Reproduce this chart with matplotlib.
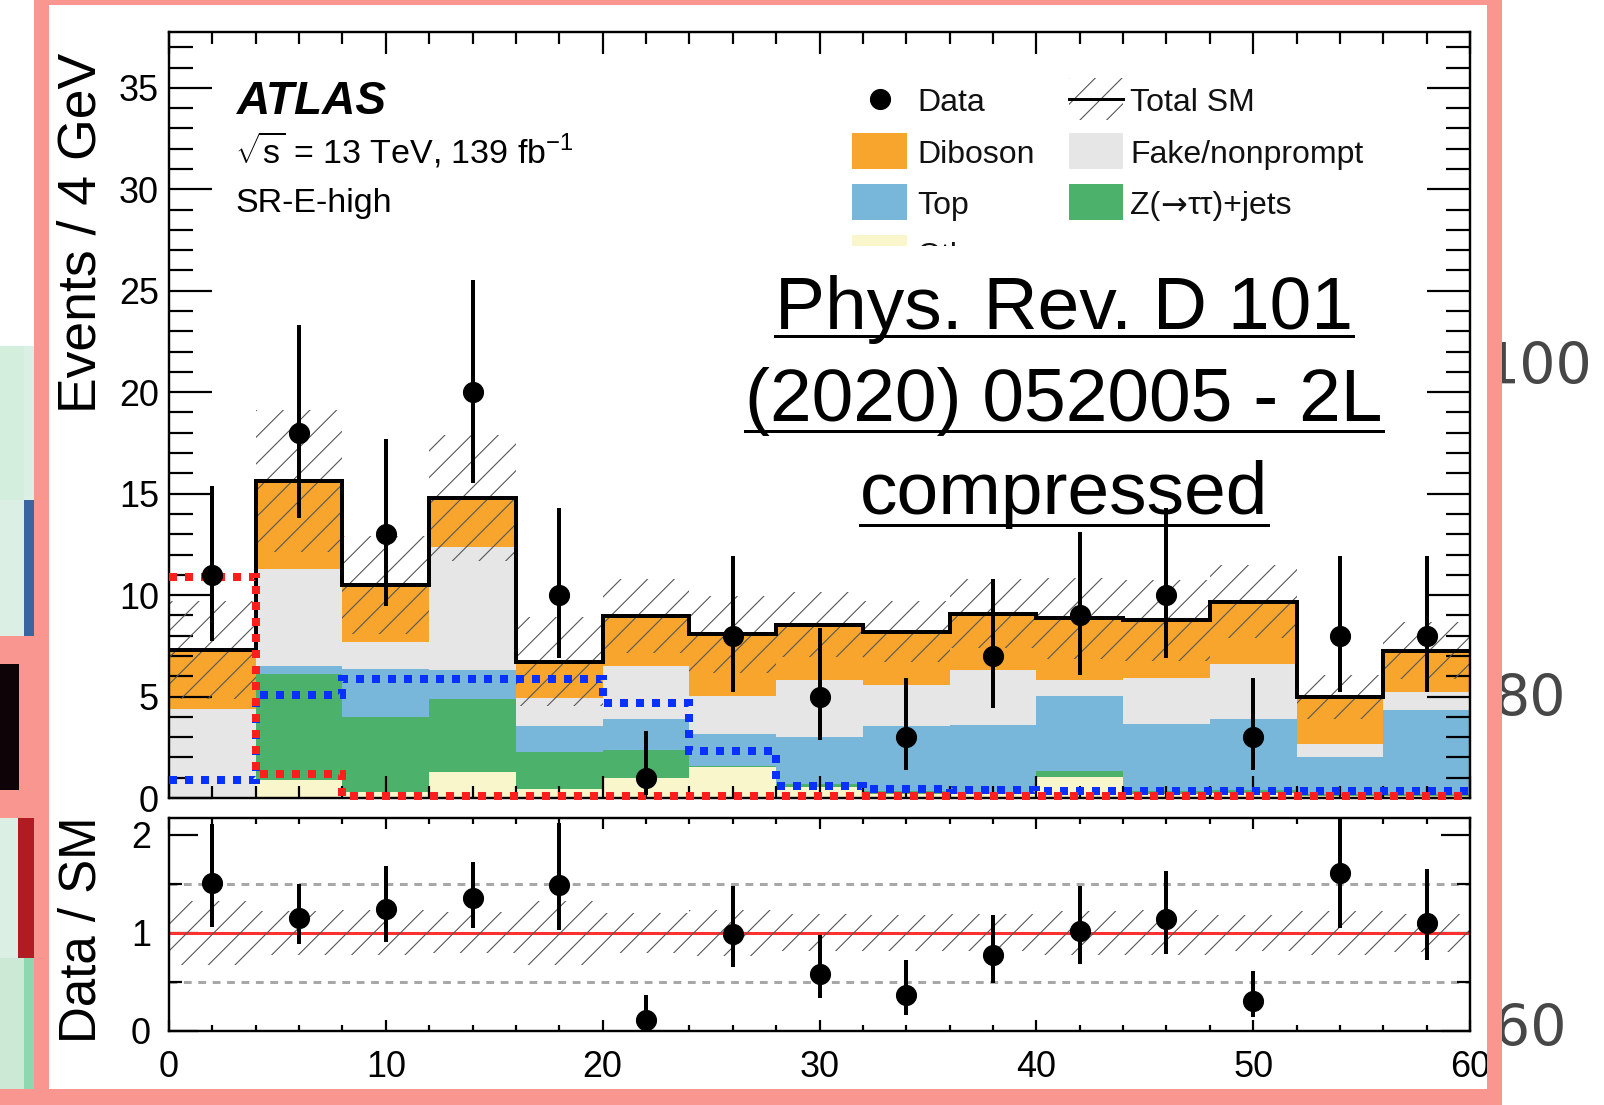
import numpy as np
import matplotlib
matplotlib.use("Agg")
import matplotlib.pyplot as plt
from matplotlib.patches import Rectangle
from matplotlib.lines import Line2D
from matplotlib.ticker import MultipleLocator

# ---------------- data ----------------
bin_edges = [0, 4, 8, 12, 16, 20, 24, 28, 32, 36, 40, 44, 48, 52, 56, 60]
bin_centers = [2, 6, 10, 14, 18, 22, 26, 30, 34, 38, 42, 46, 50, 54, 58]
data = [11, 18, 13, 20, 10, 1, 8, 5, 3, 7, 9, 10, 3, 8, 8]
data_err_low = [3.26, 4.22, 3.53, 4.46, 3.11, 0.83, 2.77, 2.16, 1.63, 2.58, 2.94, 3.11, 1.63, 2.77, 2.77]
data_err_high = [4.40, 5.30, 4.67, 5.52, 4.27, 2.30, 3.94, 3.38, 2.92, 3.77, 4.09, 4.27, 2.92, 3.94, 3.94]
others = [0.00, 0.89, 0.28, 1.26, 0.44, 0.98, 1.55, 0.55, 0.20, 0.20, 1.05, 0.20, 0.25, 0.10, 0.10]
zjets = [0.00, 5.21, 3.72, 3.61, 1.81, 1.38, 0.05, 0.15, 0.15, 0.10, 0.26, 0.15, 0.15, 0.10, 0.10]
top = [0.00, 0.40, 2.35, 1.43, 1.31, 1.52, 1.55, 2.30, 3.21, 3.30, 3.72, 3.32, 3.49, 1.83, 4.13]
fake = [4.38, 4.80, 1.35, 6.06, 1.39, 2.62, 1.88, 2.80, 2.01, 2.70, 0.77, 2.23, 2.73, 0.63, 0.87]
diboson = [2.92, 4.30, 2.80, 2.44, 1.77, 2.47, 3.04, 2.75, 2.63, 2.78, 3.05, 2.85, 3.05, 2.32, 2.05]
total_unc = [2.4, 3.5, 2.4, 3.1, 2.2, 1.8, 1.9, 1.6, 1.5, 1.7, 2.0, 2.0, 1.8, 1.1, 1.4]
signal_blue = [0.9, 5.1, 5.85, 5.85, 5.85, 4.66, 2.33, 0.58, 0.45, 0.40, 0.36, 0.36, 0.34, 0.34, 0.34]
signal_red = [10.9, 1.2, 0.1, 0.1, 0.1, 0.1, 0.1, 0.1, 0.1, 0.1, 0.1, 0.1, 0.1, 0.1, 0.1]

legend_labels = ["Data", "Total SM", "Diboson", "Fake/nonprompt", "Top", "Z(\u2192\u03c4\u03c4)+jets", "Others"]
annotation_lines = ["Phys. Rev. D 101", "(2020) 052005 - 2L", "compressed"]
side_labels = ["100", "80", "60"]

# ---------------- style ----------------
W, H = 1604, 1105
DPI = 80


def pt(px):
    return px * 72.0 / DPI


def fx(px):
    return px / W


def fy(py):
    return 1.0 - py / H


plt.rcParams['font.family'] = ['Liberation Sans', 'DejaVu Sans']
plt.rcParams['mathtext.fontset'] = 'custom'
plt.rcParams['mathtext.rm'] = 'Liberation Sans'
plt.rcParams['mathtext.it'] = 'Liberation Sans:italic'
plt.rcParams['mathtext.bf'] = 'Liberation Sans:bold'
plt.rcParams['hatch.linewidth'] = pt(1.1)

c_dib = '#F8A52E'
c_fake = '#E6E6E6'
c_top = '#78B7DA'
c_z = '#4CB26B'
c_oth = '#FAF6CB'
c_hatch = '#555555'
c_pink = '#F9968F'

edges = np.array(bin_edges, dtype=float)
centers = np.array(bin_centers, dtype=float)
d = np.array(data, dtype=float)
dlo = np.array(data_err_low)
dhi = np.array(data_err_high)
comps = [np.array(others), np.array(zjets), np.array(top), np.array(fake), np.array(diboson)]
cols = [c_oth, c_z, c_top, c_fake, c_dib]
total = np.sum(comps, axis=0)
unc = np.array(total_unc)

fig = plt.figure(figsize=(W / DPI, H / DPI), dpi=DPI)
fig.patch.set_facecolor('white')

ax = fig.add_axes([fx(169), fy(798), fx(1470) - fx(169), fy(32) - fy(798)])
rax = fig.add_axes([fx(169), fy(1031), fx(1470) - fx(169), fy(818) - fy(1031)])

# stacked histogram
cum = np.zeros_like(total)
for vals, col in zip(comps, cols):
    ax.stairs(cum + vals, edges, baseline=cum.copy(), fill=True, facecolor=col,
              edgecolor=col, linewidth=0, zorder=1)
    cum = cum + vals

ax.stairs(total + unc, edges, baseline=total - unc, fill=True, facecolor='none',
          edgecolor=c_hatch, hatch='/', linewidth=0, zorder=2)
ax.stairs(total, edges, baseline=None, color='black', linewidth=pt(4), zorder=3)

ax.stairs(signal_blue, edges, baseline=None, color='#0A30FF', linewidth=pt(8),
          linestyle=(0, (1, 1.0)), zorder=4, clip_on=False)
ax.stairs(signal_red, edges, baseline=None, color='#FF1E1E', linewidth=pt(8),
          linestyle=(0, (1, 1.0)), zorder=4.1, clip_on=False)

ax.errorbar(centers, d, yerr=[dlo, dhi], fmt='o', color='black', ms=pt(20),
            elinewidth=pt(4), capsize=0, zorder=6)

ax.set_xlim(0, 60)
ax.set_ylim(0, 37.75)

# ratio panel
ratio = d / total
rel = unc / total
rax.axhline(1.0, color='#FF3030', linewidth=pt(3), zorder=2)
for yv in (0.5, 1.5):
    rax.axhline(yv, color='#A8A8A8', linewidth=pt(3), linestyle=(0, (2.6, 2.2)), zorder=1)
rax.stairs(1 + rel, edges, baseline=1 - rel, fill=True, facecolor='none',
           edgecolor=c_hatch, hatch='/', linewidth=0, zorder=2)
rax.errorbar(centers, ratio, yerr=[dlo / total, dhi / total], fmt='o', color='black',
             ms=pt(20), elinewidth=pt(4), capsize=0, zorder=6)
rax.set_xlim(0, 60)
rax.set_ylim(0, 2.17)

for a in (ax, rax):
    a.xaxis.set_major_locator(MultipleLocator(10))
    a.xaxis.set_minor_locator(MultipleLocator(2))
    for s in a.spines.values():
        s.set_linewidth(pt(2.4))
    a.tick_params(which='both', direction='in', top=True, right=True, width=pt(2.2),
                  colors='black', labelsize=pt(36))

ax.yaxis.set_major_locator(MultipleLocator(5))
ax.yaxis.set_minor_locator(MultipleLocator(1))
ax.tick_params(axis='y', which='major', length=pt(43), pad=pt(10))
ax.tick_params(axis='y', which='minor', length=pt(24))
ax.tick_params(axis='x', which='major', length=pt(22), labelbottom=False)
ax.tick_params(axis='x', which='minor', length=pt(12))

rax.yaxis.set_major_locator(MultipleLocator(1))
rax.yaxis.set_minor_locator(MultipleLocator(0.5))
rax.tick_params(axis='y', which='major', length=pt(29), pad=pt(18))
rax.tick_params(axis='y', which='minor', length=pt(13))
rax.tick_params(axis='x', which='major', length=pt(11), pad=pt(19))
rax.tick_params(axis='x', which='minor', length=pt(6))

# axis titles
fig.text(fx(82), fy(233), "Events / 4 GeV", rotation=90, ha='center', va='center',
         fontsize=pt(53.5), color='black')
fig.text(fx(82), fy(930), "Data / SM", rotation=90, ha='center', va='center',
         fontsize=pt(51), color='black')

# ATLAS labels
fig.text(fx(237), fy(114), "ATLAS", fontsize=pt(46), fontweight='bold', fontstyle='italic',
         ha='left', va='baseline')
fig.text(fx(235), fy(164), "$\\sqrt{\\mathrm{s}}$ = 13 TeV, 139 fb$^{-1}$", fontsize=pt(34),
         ha='left', va='baseline')
fig.text(fx(235), fy(212), "SR-E-high", fontsize=pt(34), ha='left', va='baseline')

# legend (manual)
leg_fs = pt(32)
c1_box = (852, 907)
c2_box = (1069, 1123)
fig.add_artist(Line2D([fx(880)], [fy(99)], marker='o', ms=pt(20), color='black',
                      linestyle='none', transform=fig.transFigure, zorder=3))
fig.add_artist(Rectangle((fx(c2_box[0]), fy(120)), fx(c2_box[1] - c2_box[0]), 42 / H,
                         transform=fig.transFigure, facecolor='none', edgecolor=c_hatch,
                         hatch='/', linewidth=0, zorder=3))
fig.add_artist(Line2D([fx(c2_box[0]), fx(c2_box[1])], [fy(99), fy(99)], color='black',
                      linewidth=pt(3), transform=fig.transFigure, zorder=3))


def box(x0, x1, y0, y1, col, z=3):
    fig.add_artist(Rectangle((fx(x0), fy(y1)), fx(x1 - x0), (y1 - y0) / H,
                             transform=fig.transFigure, facecolor=col, edgecolor='none',
                             linewidth=0, zorder=z))


box(c1_box[0], c1_box[1], 133, 169, c_dib)
box(c1_box[0], c1_box[1], 184, 220, c_top)
box(c1_box[0], c1_box[1], 235, 271, c_oth)
box(c2_box[0], c2_box[1], 133, 169, c_fake)
box(c2_box[0], c2_box[1], 184, 220, c_z)

leg_pos = [(917, 111), (1130, 111), (917, 163), (1130, 163), (917, 214), (1130, 214), (917, 265)]
for lab, (lx, ly) in zip(legend_labels, leg_pos):
    if '\u2192' in lab:
        pre, rest = lab.split('\u2192')
        t1 = fig.text(fx(lx), fy(ly), pre, fontsize=leg_fs, ha='left', va='baseline',
                      color='#111111', zorder=3)
        fig.canvas.draw()
        r = fig.canvas.get_renderer()
        x1 = t1.get_window_extent(r).x1
        t2 = fig.text(x1 / W, fy(ly), '\u2192', fontsize=leg_fs, ha='left', va='baseline',
                      color='#111111', family='DejaVu Sans', zorder=3)
        fig.canvas.draw()
        x2 = t2.get_window_extent(r).x1
        fig.text(x2 / W, fy(ly), rest, fontsize=leg_fs, ha='left', va='baseline',
                 color='#111111', zorder=3)
    else:
        fig.text(fx(lx), fy(ly), lab, fontsize=leg_fs, ha='left', va='baseline',
                 color='#111111', zorder=3)

# white box of the overlaid reference note
box(830, 1400, 246, 280, 'white', z=4)

# reference note, underlined
ann_y = [329, 421, 514]
ann_ul = [336, 431, 525]
ann_texts = []
for s, yb in zip(annotation_lines, ann_y):
    t = fig.text(fx(1064), fy(yb), s, fontsize=pt(75), ha='center', va='baseline',
                 color='black', zorder=5)
    ann_texts.append(t)
fig.canvas.draw()
rend = fig.canvas.get_renderer()
for t, yu in zip(ann_texts, ann_ul):
    bb = t.get_window_extent(rend)
    fig.add_artist(Line2D([bb.x0 / W, bb.x1 / W], [fy(yu), fy(yu)], color='black',
                          linewidth=pt(3), transform=fig.transFigure, zorder=5))

# slide fragments behind the framed picture
side_pos = [(1592, 384), (1566, 716), (1566, 1046)]
for s, (sx, sy) in zip(side_labels, side_pos):
    fig.text(fx(sx), fy(sy), s, fontsize=pt(57), ha='right', va='baseline',
             color='#474747', family='DejaVu Sans', zorder=-3)
# white inside of the framed picture hides the slide behind it
box(49, 1487, 5, 1089, 'white', z=-2)

box(0, 24, 346, 500, '#D4EEDD', z=6)
box(24, 34, 346, 500, '#DCEFE4', z=6)
box(0, 24, 500, 636, '#DCEFE5', z=6)
box(24, 34, 500, 636, '#3A65A0', z=6)
box(0, 34, 636, 818, c_pink, z=6)
box(0, 19, 664, 790, '#0E0306', z=6)
box(0, 18, 818, 958, '#DCEFE5', z=6)
box(18, 34, 818, 958, '#B01C22', z=6)
box(0, 24, 958, 1089, '#CBE9D5', z=6)
box(24, 34, 958, 1089, '#8ED8AF', z=6)

# pink frame
box(34, 1502, 0, 5, c_pink, z=10)
box(34, 49, 0, 1105, c_pink, z=10)
box(1487, 1502, 0, 1105, c_pink, z=10)
box(0, 1502, 1089, 1105, c_pink, z=10)

fig.savefig("out.png", dpi=DPI)
